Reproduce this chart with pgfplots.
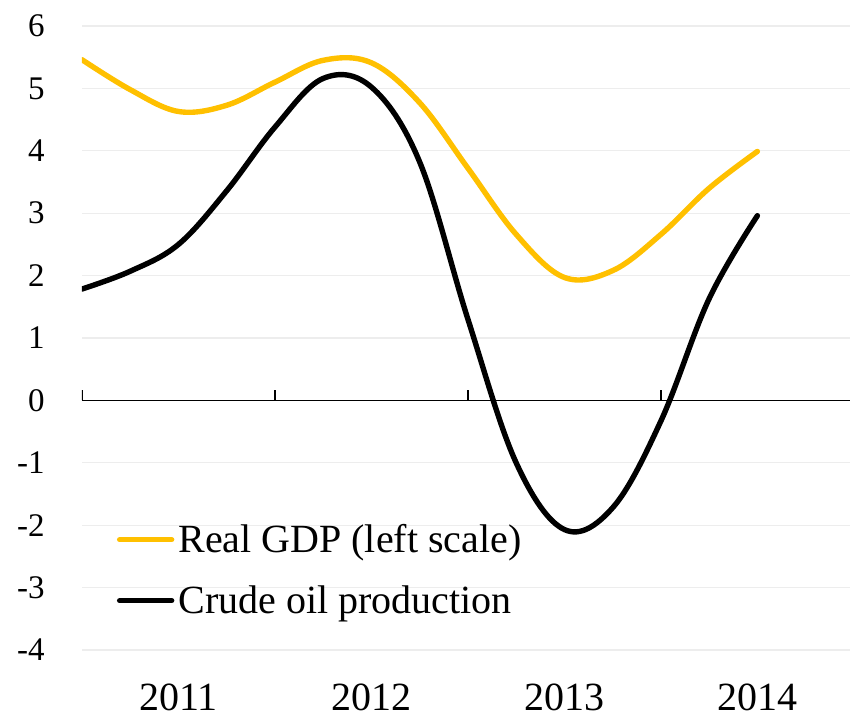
\documentclass[border=0pt]{standalone}
\usepackage{fontspec}
\setmainfont{Liberation Serif}
\usepackage{pgfplots}
\pgfplotsset{compat=1.18}
\definecolor{gold}{HTML}{FFC000}
\begin{document}
\begin{tikzpicture}
\begin{axis}[
  name=ax,
  scale only axis,
  width=384pt, height=312pt,
  xmin=0, xmax=3.98,
  ymin=-4, ymax=6,
  ytick={-4,-3,-2,-1,0,1,2,3,4,5,6},
  xtick={0.5,1.5,2.5,3.5},
  xticklabels={2011,2012,2013,2014},
  major tick length=0pt,
  axis line style={draw=none},
  ymajorgrids,
  grid style={color=black!7, line width=0.6pt},
  yticklabel style={font=\fontsize{16.5}{18}\selectfont, inner sep=0pt, anchor=east},
  yticklabel shift=18.5pt,
  xticklabel style={font=\fontsize{20}{24}\selectfont, inner sep=0pt, anchor=north},
  xticklabel shift=16.5pt,
  /pgf/number format/assume math mode=true,
  legend style={draw=none, fill=none, inner sep=0pt, at={(rel axis cs:0.045,0.128)}, anchor=west,
    font=\fontsize{20}{24}\selectfont, row sep=15pt, column sep=2pt,
    nodes={inner sep=0pt}},
  legend cell align=left,
  legend image code/.code={\draw[#1] (0pt,0pt) -- (26pt,0pt);},
]
\draw[black, line width=0.8pt] (axis cs:0,0) -- (axis cs:3.98,0);
\draw[black, line width=0.8pt] (axis cs:0,0) -- ([yshift=5pt]axis cs:0,0);
\draw[black, line width=0.8pt] (axis cs:1,0) -- ([yshift=5pt]axis cs:1,0);
\draw[black, line width=0.8pt] (axis cs:2,0) -- ([yshift=5pt]axis cs:2,0);
\draw[black, line width=0.8pt] (axis cs:3,0) -- ([yshift=5pt]axis cs:3,0);
\addplot[gold, line width=2.7pt, line cap=round, smooth, tension=0.6] coordinates {
 (0,5.46) (0.25,4.98) (0.5,4.63) (0.75,4.73) (1.0,5.10) (1.25,5.45) (1.5,5.41)
 (1.75,4.77) (2.0,3.72) (2.25,2.66) (2.5,1.97) (2.75,2.08) (3.0,2.66) (3.25,3.40) (3.5,3.99)
};
\addlegendentry{Real GDP (left scale)}
\addplot[black, line width=2.7pt, line cap=round, smooth, tension=0.6] coordinates {
 (0,1.785) (0.25,2.07) (0.5,2.50) (0.75,3.36) (1.0,4.38) (1.25,5.16) (1.5,5.02)
 (1.75,3.82) (2.0,1.30) (2.25,-1.0) (2.5,-2.07) (2.75,-1.72) (3.0,-0.33) (3.25,1.63) (3.5,2.96)
};
\addlegendentry{Crude oil production}
\end{axis}
\pgfresetboundingbox
\path[use as bounding box] ([xshift=-41pt,yshift=-33pt]ax.south west) rectangle ([yshift=13pt]ax.north east);
\end{tikzpicture}
\end{document}
